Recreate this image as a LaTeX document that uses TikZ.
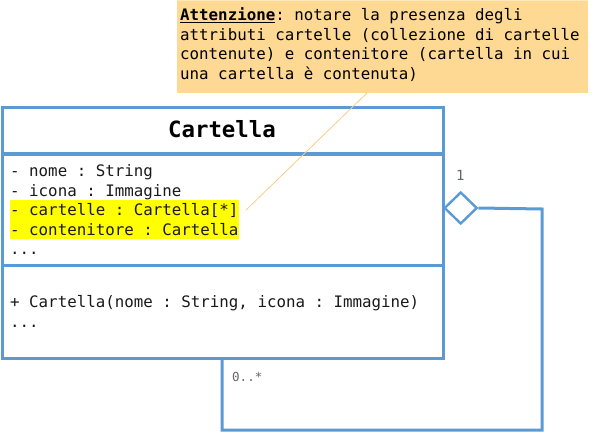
\documentclass[tikz,border=0pt]{standalone}
\usepackage{fontspec}
\setmonofont{DejaVu Sans Mono}
\usetikzlibrary{shapes.geometric}
\definecolor{umlblue}{HTML}{5B9BD5}
\definecolor{notefill}{HTML}{FDD993}
\definecolor{notetop}{HTML}{FEE8BC}
\definecolor{txtgray}{HTML}{1A1A1A}
\definecolor{lblgray}{HTML}{666666}
\definecolor{hl}{HTML}{FFFF00}
\definecolor{pointer}{HTML}{F9CC8A}
\tikzset{
  classbox/.style={draw=umlblue, line width=3pt, fill=white, anchor=north west, minimum width=441pt, inner sep=0pt, outer sep=0pt},
  mono/.style={font=\ttfamily\fontsize{15.8}{19.4}\selectfont, inner sep=0pt, anchor=base west, text=txtgray},
  link/.style={draw=umlblue, line width=3pt},
}
\begin{document}
\begin{tikzpicture}[x=1pt,y=-1pt]
\useasboundingbox (0,0) rectangle (600,433);
% note
\node[fill=notefill, anchor=north west, minimum width=411pt, minimum height=93pt, inner sep=0pt] (note) at (177,0) {};
\draw[notetop, line width=1.5pt] (note.north west) -- (note.north east);
\node[mono, text=black] (n1) at (180,21) {\textbf{\underline{Attenzione}}: notare la presenza degli};
\node[mono, text=black] (n2) at (180,40.5) {attributi cartelle (collezione di cartelle};
\node[mono, text=black] (n3) at (180,60) {contenute) e contenitore (cartella in cui};
\node[mono, text=black] (n4) at (180,79.5) {una cartella è contenuta)};
% class
\node[classbox, minimum height=46pt] (title) at (2,108) {};
\node[font=\ttfamily\bfseries\fontsize{22.4}{26}\selectfont, anchor=base, inner sep=0pt] (tname) at (222,138) {Cartella};
\node[classbox, minimum height=110pt] (attrs) at (2,155) {};
\node[classbox, minimum height=93pt] (ops) at (2,265) {};
\fill[hl] (10,200) rectangle (239,239);
\node[mono] (a1) at (10,177) {- nome : String};
\node[mono] (a2) at (10,196.3) {- icona : Immagine};
\node[mono] (a3) at (10,215.6) {- cartelle : Cartella[*]};
\node[mono] (a4) at (10,235) {- contenitore : Cartella};
\node[mono] (a5) at (10,254) {...};
\node[mono] (o1) at (10,307) {+ Cartella(nome : String, icona : Immagine)};
\node[mono] (o2) at (10,327) {...};
% pointer line from note to attribute
\coordinate (pa) at (367,93);
\coordinate (pb) at (246,210);
\draw[pointer, line width=0.8pt] (pa) -- (pb);
% aggregation
\node[draw=umlblue, line width=2.4pt, fill=white, diamond, minimum width=33pt, minimum height=32pt, inner sep=0pt, anchor=west] (dia) at (443,208) {};
\coordinate (c1) at (542,209);
\coordinate (c2) at (542,430);
\coordinate (c3) at (222,430);
\coordinate (c4) at (222,358);
\draw[link] (dia.east) -- (c1) -- (c2) -- (c3) -- (c4);
\node[mono, text=lblgray, font=\ttfamily\fontsize{14}{16}\selectfont] (m1) at (456,181) {1};
\node[mono, text=lblgray, font=\ttfamily\fontsize{12.5}{16}\selectfont] (m2) at (232,381) {0..*};
\end{tikzpicture}
\end{document}
